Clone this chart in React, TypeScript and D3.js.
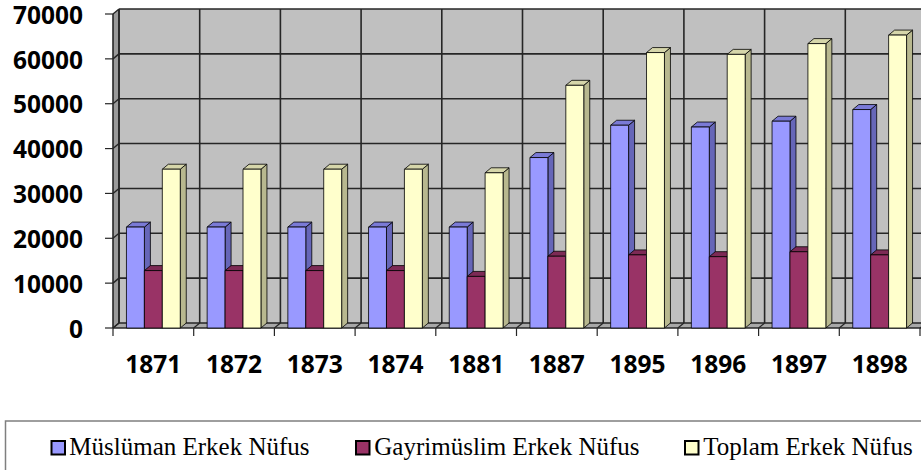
import React from "react";
import * as d3 from "d3";

const categories = ["1871", "1872", "1873", "1874", "1881", "1887", "1895", "1896", "1897", "1898"];
const seriesNames = ["Müslüman Erkek Nüfus", "Gayrimüslim Erkek Nüfus", "Toplam Erkek Nüfus"];
const muslim = [22500, 22500, 22500, 22500, 22500, 38000, 45200, 44800, 46100, 48700];
const nonMuslim = [12800, 12800, 12800, 12800, 11500, 16000, 16300, 15900, 17000, 16300];
const total = [35400, 35400, 35400, 35400, 34600, 54100, 61400, 61000, 63400, 65300];
const yTicks = [0, 10000, 20000, 30000, 40000, 50000, 60000, 70000];

const front = ["#9999FF", "#993366", "#FFFFCC"];
const side = ["#6666B8", "#6B2447", "#B8B88F"];
const topC = ["#7A7AD6", "#7D2A55", "#D6D6AA"];

const W = 921, H = 470;
const left = 113, right = 920, base = 328, topY = 14;
const DX = 6, DY = -5;

export default function App() {
  const x0 = d3.scaleBand<string>().domain(categories).range([left, right]).padding(0);
  const x1 = d3.scaleBand<string>().domain(seriesNames).range([0, x0.bandwidth()]).paddingInner(0).paddingOuter(0.75);
  const y = d3.scaleLinear().domain([0, 70000]).range([base, topY]);
  const data = [muslim, nonMuslim, total];
  const boundaries = categories.map((c) => x0(c) as number).concat([right]);
  const grid = "#262626";

  return (
    <svg width={W} height={H} style={{ position: "absolute", left: 0, top: 0, background: "#fff" }}>
      {/* walls */}
      <polygon points={`${left},${topY} ${left + DX},${topY + DY} ${left + DX},${base + DY} ${left},${base}`} fill="#9a9a9a" />
      <rect x={left + DX} y={topY + DY} width={W - left} height={base - topY} fill="#C0C0C0" />
      <polygon points={`${left},${base} ${left + DX},${base + DY} ${W + 10},${base + DY} ${W + 10},${base}`} fill="#a8a8a8" />
      {/* horizontal gridlines */}
      {yTicks.map((t) => (
        <g key={"g" + t}>
          <line x1={left + DX} x2={W + 10} y1={y(t) + DY} y2={y(t) + DY} stroke={grid} strokeWidth={1.6} />
          <line x1={left} x2={left + DX} y1={y(t)} y2={y(t) + DY} stroke={grid} strokeWidth={1.4} />
          <line x1={left - 8} x2={left} y1={y(t)} y2={y(t)} stroke={grid} strokeWidth={1.2} />
        </g>
      ))}
      {/* vertical gridlines */}
      {boundaries.map((b, i) => (
        <g key={"v" + i}>
          <line x1={b + DX} x2={b + DX} y1={topY + DY} y2={base + DY} stroke={grid} strokeWidth={1.6} />
          <line x1={b} x2={b + DX} y1={base} y2={base + DY} stroke={grid} strokeWidth={1.2} />
          <line x1={b} x2={b} y1={base} y2={base + 8} stroke={grid} strokeWidth={1.2} />
        </g>
      ))}
      <line x1={left + DX} x2={left + DX} y1={topY + DY} y2={base + DY} stroke={grid} strokeWidth={1.6} />
      <line x1={left} x2={left} y1={topY} y2={base} stroke={grid} strokeWidth={1.6} />
      <line x1={left} x2={W + 10} y1={base} y2={base} stroke={grid} strokeWidth={1.6} />
      {/* bars */}
      {categories.map((c, ci) => (
        <g key={c}>
          {seriesNames.map((s, si) => {
            const bx = (x0(c) as number) + (x1(s) as number);
            const bw = x1.bandwidth();
            const by = y(data[si][ci]);
            return (
              <g key={s} stroke="#000" strokeWidth={0.8} strokeLinejoin="round">
                <polygon points={`${bx + bw},${by} ${bx + bw + DX},${by + DY} ${bx + bw + DX},${base + DY} ${bx + bw},${base}`} fill={side[si]} />
                <polygon points={`${bx},${by} ${bx + DX},${by + DY} ${bx + bw + DX},${by + DY} ${bx + bw},${by}`} fill={topC[si]} />
                <rect x={bx} y={by} width={bw} height={base - by} fill={front[si]} />
              </g>
            );
          })}
        </g>
      ))}
      {/* y labels */}
      {yTicks.map((t) => (
        <text key={"yl" + t} x={83} y={y(t) + 9.7} textAnchor="end" fontFamily="'Open Sans', sans-serif" fontWeight={700} fontSize={24.5} fill="#000">
          {t}
        </text>
      ))}
      {/* x labels */}
      {categories.map((c) => (
        <text key={"xl" + c} x={(x0(c) as number) + x0.bandwidth() / 2} y={373.3} textAnchor="middle" fontFamily="'Open Sans', sans-serif" fontWeight={700} fontSize={24.5} fill="#000">
          {c}
        </text>
      ))}
      {/* legend */}
      <rect x={5.5} y={421} width={W + 20} height={100} fill="#fff" stroke="#7f7f7f" strokeWidth={1.5} />
      {seriesNames.map((s, i) => {
        const mx = [51.5, 356, 685][i];
        const tx = [69.3, 374.3, 703.3][i];
        return (
          <g key={"lg" + s}>
            <rect x={mx} y={441} width={13.5} height={13.5} fill={front[i]} stroke="#000" strokeWidth={2} />
            <text x={tx} y={455} fontFamily="'Liberation Serif', 'Times New Roman', serif" fontSize={25} fill="#000">
              {s}
            </text>
          </g>
        );
      })}
    </svg>
  );
}
